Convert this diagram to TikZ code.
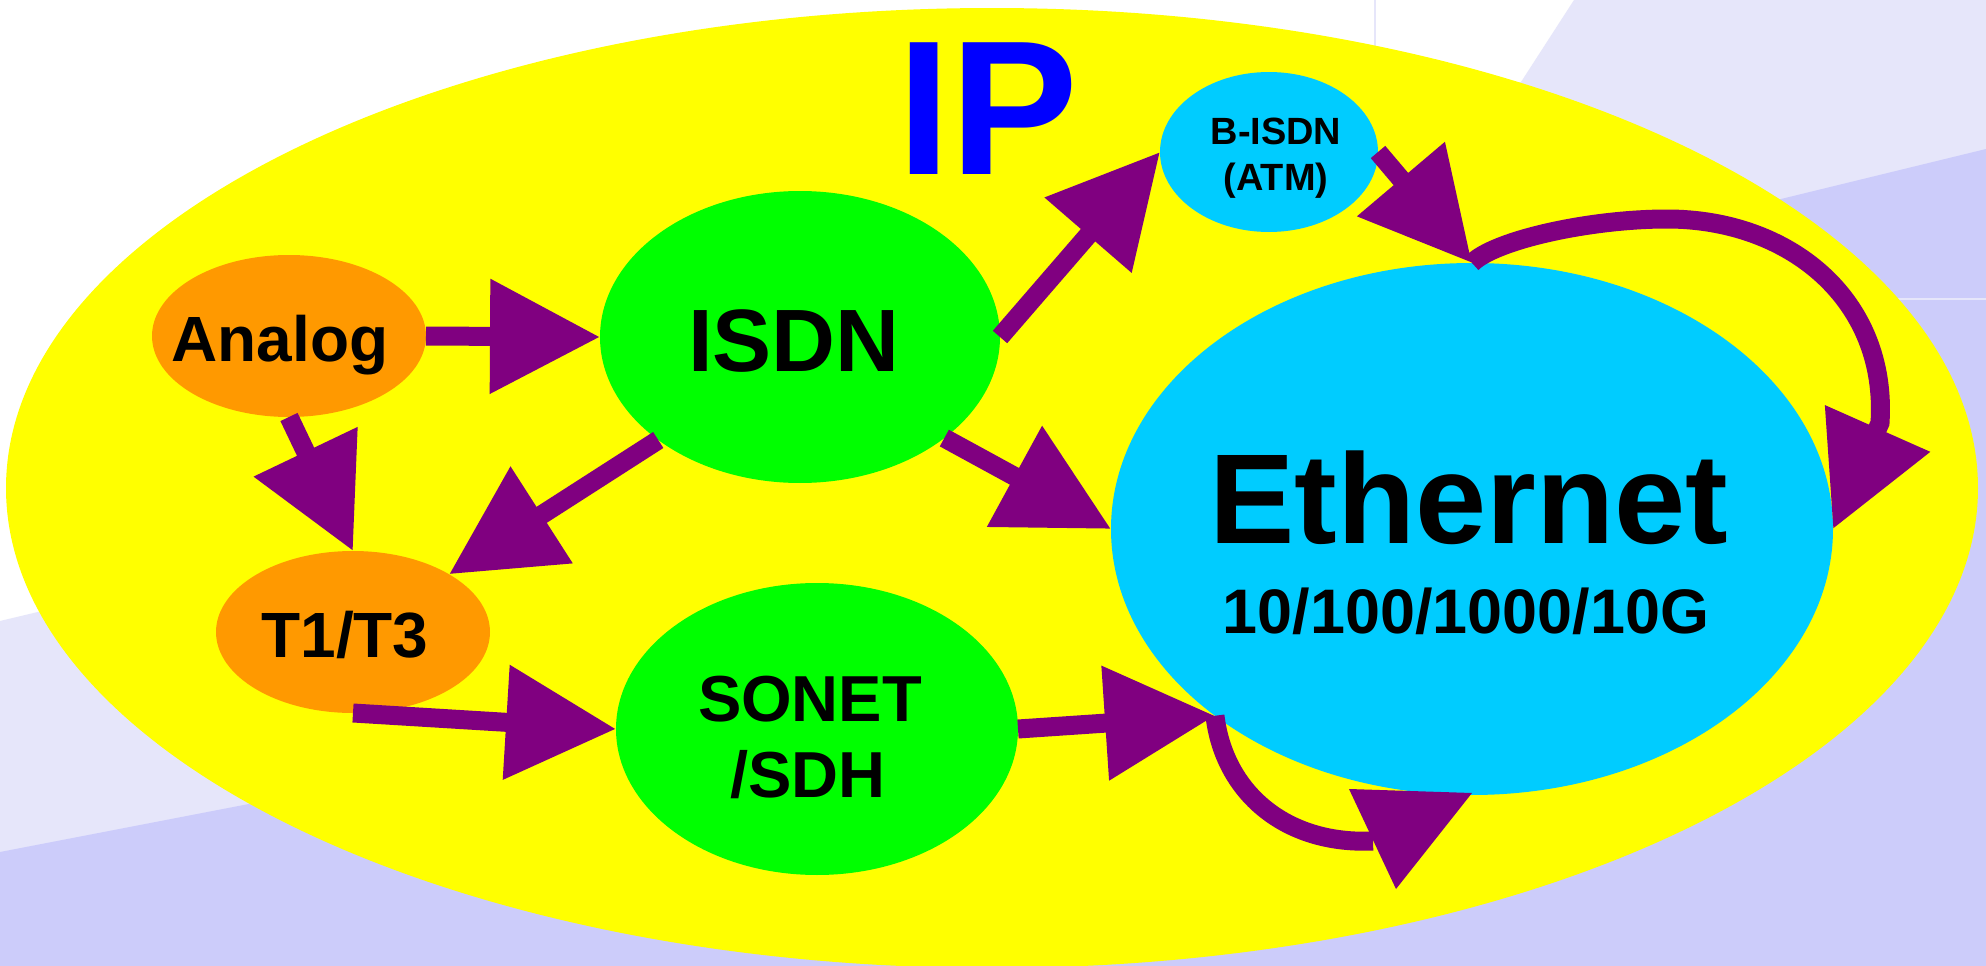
\documentclass[tikz,border=0pt]{standalone}
\usepackage{fontspec}
\setmainfont{Liberation Sans}
\usetikzlibrary{shapes.geometric, arrows.meta}

\definecolor{lavlight}{HTML}{E6E6FA}
\definecolor{lavdark}{HTML}{CCCCFA}
\definecolor{ipyellow}{HTML}{FFFF00}
\definecolor{nodeorange}{HTML}{FF9900}
\definecolor{nodegreen}{HTML}{00FF00}
\definecolor{nodecyan}{HTML}{00CCFF}
\definecolor{arrowpurple}{HTML}{800080}
\definecolor{ipblue}{HTML}{0000FF}

\begin{document}
\begin{tikzpicture}[x=0.1mm, y=-0.1mm,
  blob/.style={ellipse, inner sep=0pt, outer sep=0pt, draw=none},
  txt/.style={anchor=base, inner sep=0pt, outer sep=0pt},
  shaft/.style={draw=arrowpurple, line width=1.9mm},
  conn/.style={shaft, -{Triangle[length=11mm, width=11mm]}},
]
\useasboundingbox (0,0) rectangle (1986,966);

% backdrop bands
\fill[white] (0,0) rectangle (1986,966);
\fill[lavlight] (0,621) -- (42,611) -- (700,400) -- (1521,82) -- (1574,0)
  -- (1986,0) -- (1986,966) -- (0,966) -- cycle;
\fill[lavdark] (0,852) -- (254,803) -- (1000,560) -- (1781,199) -- (1986,149)
  -- (1986,966) -- (0,966) -- cycle;
\draw[lavlight, line width=0.25mm] (1375,0) -- (1375,120);
\draw[lavlight, line width=0.25mm] (1700,299) -- (1986,299);

% the IP cloud
\node[blob, fill=ipyellow, minimum width=197.2mm, minimum height=96mm] (ipnet) at (992,488) {};
\node[txt, text=ipblue, font=\bfseries\fontsize{54.5pt}{60pt}\selectfont] (iptext) at (988,174) {IP};

% technologies
\node[blob, fill=nodeorange, minimum width=27.4mm, minimum height=16.2mm] (analog) at (289,336) {};
\node[blob, fill=nodegreen, minimum width=40mm, minimum height=29.2mm] (isdn) at (800,337) {};
\node[blob, fill=nodecyan, minimum width=21.8mm, minimum height=16mm] (bisdn) at (1269,152) {};
\node[blob, fill=nodecyan, minimum width=72.2mm, minimum height=53.2mm] (ethernet) at (1472,529) {};
\node[blob, fill=nodeorange, minimum width=27.4mm, minimum height=16.2mm] (t1) at (353,632) {};
\node[blob, fill=nodegreen, minimum width=40.2mm, minimum height=29.2mm] (sonet) at (817,729) {};

\node[txt, font=\bfseries\fontsize{18.2pt}{20pt}\selectfont] (analogtext) at (280,361) {Analog};
\node[txt, font=\bfseries\fontsize{25.2pt}{28pt}\selectfont] (isdntext) at (794,371) {ISDN};
\node[txt, font=\bfseries\fontsize{10.8pt}{12pt}\selectfont] (bisdntop) at (1276,145) {B-ISDN};
\node[txt, font=\bfseries\fontsize{10.8pt}{12pt}\selectfont] (bisdnbot) at (1276,190) {(ATM)};
\node[txt, font=\bfseries\fontsize{36.4pt}{40pt}\selectfont] (ethtext) at (1469,543) {Ethernet};
\node[txt, font=\bfseries\fontsize{17.9pt}{20pt}\selectfont] (ethspeed) at (1466,633) {10/100/1000/10G};
\node[txt, font=\bfseries\fontsize{18.2pt}{20pt}\selectfont] (t1text) at (345,657) {T1/T3};
\node[txt, font=\bfseries\fontsize{18.5pt}{20pt}\selectfont] (sonettop) at (810,721) {SONET};
\node[txt, font=\bfseries\fontsize{18.5pt}{20pt}\selectfont] (sonetbot) at (808,797) {/SDH};

% connections
\draw[conn] (analog.east) -- (isdn.west);
\draw[conn] (isdn.east) -- (bisdn.west);
\draw[conn] (bisdn.east) -- (ethernet.north);
\draw[conn] (isdn.-35) -- (ethernet.west);
\draw[conn] (isdn.216) -- (t1.31);
\draw[conn] (analog.south) -- (t1.north);
\draw[conn] (t1.south) -- (sonet.west);
\draw[conn] (sonet.east) -- (ethernet.216);

% loop over the top of Ethernet
\coordinate (looptop) at (1667,219);
\coordinate (loopright) at (1880,423);
\draw[conn] (ethernet.north) .. controls (1495,240) and (1590,219) .. (looptop)
  .. controls (1790,219) and (1888,300) .. (loopright) -- (ethernet.east);

% loop under Ethernet, ending in a free head
\coordinate (loopbottom) at (1373,841);
\coordinate (loophead) at (1396,889);
\draw[shaft] (ethernet.216) .. controls (1224,792) and (1285,845) .. (loopbottom);
\fill[arrowpurple] (1349,789) -- (1472,793) -- (loophead) -- cycle;
\end{tikzpicture}
\end{document}
